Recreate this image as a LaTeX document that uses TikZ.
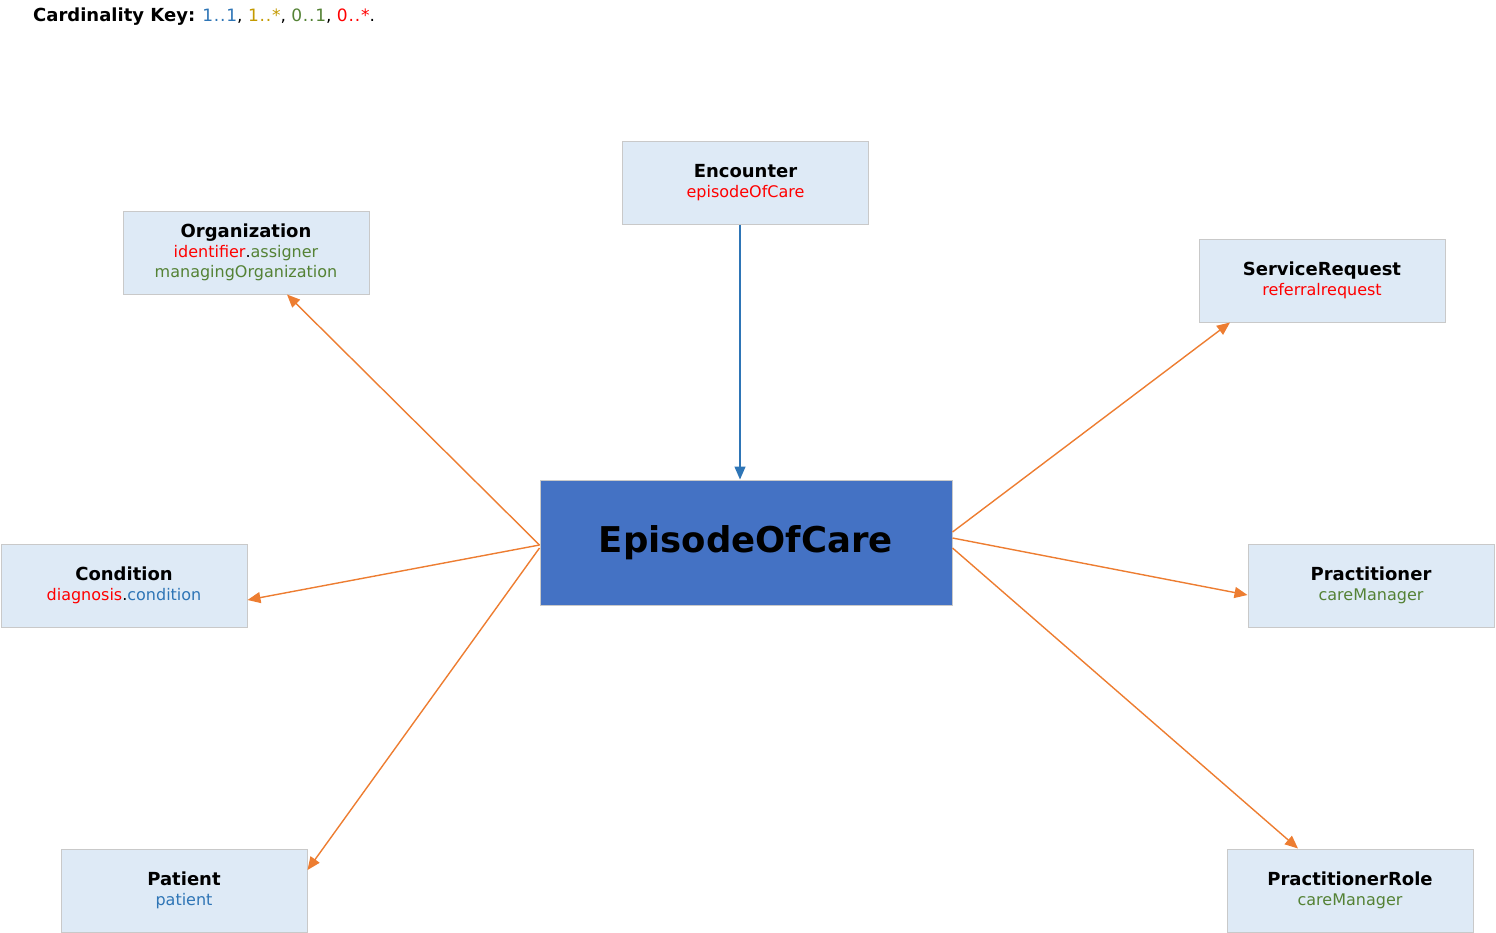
\documentclass[tikz,border=0pt]{standalone}
\usepackage{fontspec}
\setmainfont{DejaVu Sans}
\usetikzlibrary{arrows.meta}
\definecolor{boxfill}{HTML}{DEEAF6}
\definecolor{boxline}{HTML}{C9C9C9}
\definecolor{eocfill}{HTML}{4472C4}
\definecolor{orangeln}{HTML}{ED7D31}
\definecolor{blueln}{HTML}{2E75B6}
\definecolor{cOne}{HTML}{2E75B6}
\definecolor{cOneMany}{HTML}{C49A00}
\definecolor{cZeroOne}{HTML}{548235}
\definecolor{cZeroMany}{HTML}{FF0000}
\tikzset{
  refbox/.style={draw=boxline, line width=1pt, fill=boxfill, minimum width=246pt, minimum height=83pt, align=center, inner sep=0pt, font=\fontsize{16}{20}\selectfont},
  mainbox/.style={draw=boxline, line width=1pt, fill=eocfill, minimum width=412pt, minimum height=125pt, inner sep=0pt, font=\fontsize{35.5}{40}\selectfont\bfseries},
  orangearrow/.style={draw=orangeln, line width=1.4pt, -{Triangle[length=13pt,width=11pt]}},
  bluearrow/.style={draw=blueln, line width=1.4pt, -{Triangle[length=13pt,width=11pt]}}
}
\newcommand{\ttlx}[1]{{\fontsize{18}{20}\selectfont\bfseries #1}}
\newcommand{\kdots}{\kern0.8pt.\kern0.8pt.\kern0.8pt}
\begin{document}
\begin{tikzpicture}[x=1pt,y=-1pt]
\useasboundingbox (0,0) rectangle (1496,932);
\node[anchor=west, inner sep=0pt, font=\fontsize{17}{18}\selectfont] (key) at (33,17)
  {{\fontsize{18}{18}\selectfont\bfseries Cardinality Key:} \textcolor{cOne}{1\kdots 1}, \textcolor{cOneMany}{1\kdots *}, \textcolor{cZeroOne}{0\kdots 1}, \textcolor{cZeroMany}{0\kdots *}.};

\node[refbox] (enc) at (745.5,182.5) {\ttlx{Encounter}\\\textcolor{cZeroMany}{episodeOfCare}};
\node[refbox] (org) at (246,252.5) {\ttlx{Organization}\\\textcolor{cZeroMany}{identifier}.\textcolor{cZeroOne}{assigner}\\\textcolor{cZeroOne}{managingOrganization}};
\node[refbox] (sr) at (1322,280.5) {\ttlx{ServiceRequest}\\\textcolor{cZeroMany}{referralrequest}};
\node[refbox] (cond) at (124,585.5) {\ttlx{Condition}\\\textcolor{cZeroMany}{diagnosis}.\textcolor{cOne}{condition}};
\node[refbox] (prac) at (1371,585.5) {\ttlx{Practitioner}\\\textcolor{cZeroOne}{careManager}};
\node[refbox] (pat) at (184,890.5) {\ttlx{Patient}\\\textcolor{cOne}{patient}};
\node[refbox] (prr) at (1350,890.5) {\ttlx{PractitionerRole}\\\textcolor{cZeroOne}{careManager}};
\node[mainbox] (eoc) at (746,542.5) {EpisodeOfCare};

\draw[bluearrow] ([xshift=-5.5pt]enc.south) -- ([xshift=-6pt]eoc.north);
\draw[orangearrow] ([yshift=-2.5pt]eoc.west) -- ([xshift=41pt]org.south);
\draw[orangearrow] ([yshift=-2.5pt]eoc.west) -- ([yshift=-14.5pt]cond.east);
\draw[orangearrow] ([yshift=-5.5pt]eoc.west) -- ([yshift=20.5pt]pat.east);
\draw[orangearrow] ([yshift=10.5pt]eoc.east) -- ([xshift=-92pt]sr.south);
\draw[orangearrow] ([yshift=4.5pt]eoc.east) -- ([yshift=-9.5pt]prac.west);
\draw[orangearrow] ([yshift=-5.5pt]eoc.east) -- ([xshift=-52pt]prr.north);
\end{tikzpicture}
\end{document}
